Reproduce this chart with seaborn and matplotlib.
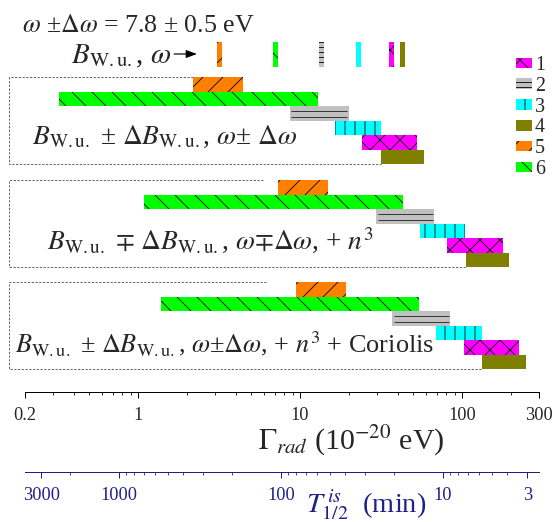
import numpy as np
import pandas as pd
import matplotlib
matplotlib.use("Agg")
import matplotlib.pyplot as plt
import seaborn as sns
from matplotlib.patches import Patch
from matplotlib.ticker import FixedLocator, FixedFormatter, LogLocator, NullFormatter

# ---------------- data ----------------
series = [1, 2, 3, 4, 5, 6]
colors = ["#ff00ff", "#c0c0c0", "#00ffff", "#808000", "#ff8000", "#00ff00"]
hatch_patterns = ["x", "--", "|", "", "/", "\\"]
row_order = [5, 6, 2, 3, 1, 4]          # top-to-bottom order inside each block

# central B_W.u., omega values (1e-20 eV), series 1..6
central = [36.7, 13.5, 23.0, 42.9, 3.18, 7.06]

# block 1: B +- dB, w +- dw
block1_low = [24.1, 8.67, 16.5, 31.8, 2.19, 0.325]
block1_high = [52.5, 20.0, 31.5, 58.3, 4.43, 12.9]
# block 2: + n^3
block2_low = [80.5, 29.5, 55.0, 106.0, 7.35, 1.09]
block2_high = [178.0, 67.2, 105.0, 196.0, 14.9, 43.0]
# block 3: + n^3 + Coriolis
block3_low = [103.0, 37.1, 69.4, 133.0, 9.42, 1.39]
block3_high = [225.0, 84.7, 133.0, 247.0, 19.3, 54.5]

block_labels = [
    r"$B_{\rm W.u.}$ ± $\Delta B_{\rm W.u.}$, $\omega$± $\Delta\omega$",
    r"$B_{\rm W.u.}$ $\mp$ $\Delta B_{\rm W.u.}$, $\omega{\mp}\Delta\omega$, + $n^{3}$",
    r"$B_{\rm W.u.}$ ± $\Delta B_{\rm W.u.}$, $\omega$±$\Delta\omega$, + $n^{3}$ + Coriolis",
]
box_top_end = [2.19, 5.9, 6.2]   # where the dashed frame's top edge stops

x_ticks = [0.2, 1, 10, 100, 300]
x_tick_labels = ["0.2", "1", "10", "100", "300"]
t_ticks = [3000, 1000, 100, 10, 3]
t_tick_labels = ["3000", "1000", "100", "10", "3"]
GAMMA_TO_T = 760.4   # T_1/2 (min) = hbar ln2 / Gamma(1e-20 eV)

lows = [block1_low, block2_low, block3_low]
highs = [block1_high, block2_high, block3_high]

# ---------------- style ----------------
sns.set_style("white")
plt.rcParams["font.family"] = ["Liberation Serif", "DejaVu Serif"]
plt.rcParams["mathtext.fontset"] = "stix"
plt.rcParams["hatch.linewidth"] = 1.0

W, H, DPI = 556, 522, 60
AX_L, AX_R, AX_B = 24.8, 539.3, 392.0
SEC_Y = 472.0
NAVY = "#1f1f8a"

fig = plt.figure(figsize=(W / DPI, H / DPI), dpi=DPI)
ax = fig.add_axes([AX_L / W, 1 - AX_B / H, (AX_R - AX_L) / W, AX_B / H])
ax.set_xscale("log")
ax.set_xlim(0.2, 300)
ax.set_ylim(AX_B, 0)
sns.despine(ax=ax, left=True, top=True, right=True)
ax.set_yticks([])
ax.spines["bottom"].set_linewidth(1.2)
ax.spines["bottom"].set_color("black")

def fpx(x, y):
    return (x / W, 1 - y / H)

# ---------------- blocks of bars ----------------
ROW_H = 14.5
block_tops = [77.5, 180.5, 282.5]
for b in range(3):
    top = block_tops[b]
    for r, sid in enumerate(row_order):
        i = sid - 1
        lo, hi = lows[b][i], highs[b][i]
        yc = top + (r + 0.5) * ROW_H
        h = hatch_patterns[i] if sid != 2 else ""
        ax.barh(yc, hi - lo, left=lo, height=ROW_H, color=colors[i],
                hatch=h, edgecolor="black", linewidth=0, zorder=3)
        if sid == 2:
            ax.hlines([yc - 3, yc + 3], lo * 1.02, hi / 1.02, color="#383838",
                      lw=1.2, zorder=4)
    bottom = top + 6 * ROW_H
    olive_lo = lows[b][3]
    xl = 0.16
    ax.plot([box_top_end[b], xl, xl, olive_lo], [top, top, bottom, bottom],
            color="#333333", lw=0.9, ls=(0, (3, 2)), clip_on=False, zorder=2)

# ---------------- thin markers for central values ----------------
MK_Y, MK_H, MK_F = 54.5, 25, 1.036
for i, v in enumerate(central):
    ax.barh(MK_Y, v * MK_F - v / MK_F, left=v / MK_F, height=MK_H,
            color=colors[i], hatch=hatch_patterns[i], edgecolor="black",
            linewidth=0, zorder=3)

ax.annotate("", xy=(2.31, 54), xytext=(1.67, 54),
            arrowprops=dict(arrowstyle="-|>,head_length=0.6,head_width=0.22",
                            color="black", lw=1.4, mutation_scale=18,
                            shrinkA=0, shrinkB=0))

# ---------------- texts ----------------
fig.text(*fpx(22, 31.5), r"$\omega$ ±$\Delta\omega$ = 7.8 ± 0.5 eV",
         fontsize=31, va="baseline", ha="left")
fig.text(*fpx(71, 63.5), r"$B_{\rm W.u.}$, $\omega$",
         fontsize=35, va="baseline", ha="left")
label_pos = [(32, 144), (47, 250), (15, 352)]
label_size = [33, 33, 31.5]
for (lx, ly), lab, fs in zip(label_pos, block_labels, label_size):
    fig.text(*fpx(lx, ly), lab, fontsize=fs, va="baseline", ha="left")

# ---------------- main x axis ----------------
ax.xaxis.set_major_locator(FixedLocator(x_ticks))
ax.xaxis.set_major_formatter(FixedFormatter(x_tick_labels))
ax.xaxis.set_minor_locator(LogLocator(base=10, subs=np.arange(2, 10), numticks=50))
ax.xaxis.set_minor_formatter(NullFormatter())
ax.tick_params(axis="x", which="major", direction="out", length=7, width=1.2,
               labelsize=22, pad=11, color="black", bottom=True)
ax.tick_params(axis="x", which="minor", direction="out", length=4, width=1.0,
               color="black", bottom=True)
fig.text(*fpx(351, 450), r"$\Gamma_{rad}$ (10$^{-20}$ eV)", fontsize=36,
         ha="center", va="baseline")

# ---------------- secondary T axis ----------------
def g2t(x):
    x = np.asarray(x, dtype=float)
    with np.errstate(divide="ignore", invalid="ignore"):
        return GAMMA_TO_T / x

sec = ax.secondary_xaxis(-(SEC_Y - AX_B) / AX_B, functions=(g2t, g2t))
sec.xaxis.set_major_locator(FixedLocator(t_ticks))
sec.xaxis.set_major_formatter(FixedFormatter(t_tick_labels))
sec.xaxis.set_minor_locator(LogLocator(base=10, subs=np.arange(2, 10), numticks=50))
sec.xaxis.set_minor_formatter(NullFormatter())
sec.spines["bottom"].set_color(NAVY)
sec.spines["bottom"].set_linewidth(1.2)
sec.tick_params(axis="x", which="major", direction="out", length=7, width=1.2,
                labelsize=22, pad=11, color=NAVY, labelcolor=NAVY)
sec.tick_params(axis="x", which="minor", direction="out", length=4, width=1.0,
                color=NAVY)
fig.text(*fpx(366, 512), r"$T^{\,is}_{1/2}$  (min)", fontsize=34, color=NAVY,
         ha="center", va="baseline")

# ---------------- legend ----------------
handles = [Patch(facecolor=colors[i], hatch=hatch_patterns[i], edgecolor="black",
                 linewidth=0) for i in range(6)]
leg = fig.legend(handles, [str(s) for s in series], loc="upper left",
                 bbox_to_anchor=fpx(516, 56), frameon=False, fontsize=24,
                 handlelength=0.8, handleheight=0.45, handletextpad=0.15,
                 labelspacing=0.09, borderpad=0, borderaxespad=0)

fig.savefig("out.png", dpi=DPI)
